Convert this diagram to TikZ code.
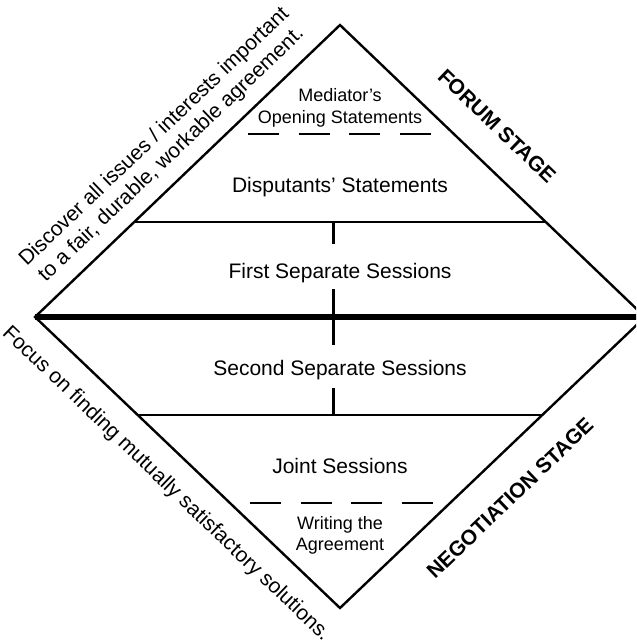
\documentclass[tikz,border=0pt]{standalone}
\usepackage{fontspec}
\setmainfont{Liberation Sans}
\begin{document}
\begin{tikzpicture}[x=1pt,y=-1pt,
  edge/.style={line width=2.4pt,line cap=round,line join=miter},
  divider/.style={line width=2.4pt},
  mainline/.style={line width=6pt},
  vsep/.style={line width=3pt},
  dashline/.style={line width=2.8pt,dash pattern=on 31pt off 19.5pt},
  lbl/.style={font=\fontsize{21}{25}\selectfont,anchor=base,inner sep=0pt},
  small/.style={font=\fontsize{18}{21.5}\selectfont,align=center,inner sep=0pt},
  stage/.style={font=\bfseries\fontsize{21}{25}\selectfont,inner sep=0pt},
  side/.style={font=\fontsize{21}{24.5}\selectfont,inner sep=0pt}]
\clip (0,0) rectangle (636,644);
\coordinate (T) at (340,25);
\coordinate (L) at (35,317);
\coordinate (R) at (645,317);
\coordinate (B) at (340,608);
% diamond
\draw[edge] (T) -- (R) -- (B) -- (L) -- cycle;
% horizontal dividers
\coordinate (u1) at (134.2,222);
\coordinate (u2) at (545.8,222);
\coordinate (d1) at (138.4,415);
\coordinate (d2) at (541.6,415);
\draw[divider] (u1) -- (u2);
\draw[divider] (d1) -- (d2);
\draw[mainline] (L) -- (R);
% vertical centre segments
\coordinate (v1a) at (333,222); \coordinate (v1b) at (333,244);
\coordinate (v2a) at (333,289); \coordinate (v2b) at (333,345);
\coordinate (v3a) at (333,388); \coordinate (v3b) at (333,415);
\draw[vsep] (v1a) -- (v1b);
\draw[vsep] (v2a) -- (v2b);
\draw[vsep] (v3a) -- (v3b);
% dashed lines
\coordinate (da1) at (248,134); \coordinate (da2) at (431,134);
\coordinate (db1) at (250,503); \coordinate (db2) at (433,503);
\draw[dashline] (da1) -- (da2);
\draw[dashline] (db1) -- (db2);
% labels
\node[small] (med) at (340,107.9) {Mediator’s\\Opening Statements};
\node[lbl] (disp) at (340,193) {Disputants’ Statements};
\node[lbl] (first) at (340,278) {First Separate Sessions};
\node[lbl] (second) at (340,375) {Second Separate Sessions};
\node[lbl] (joint) at (340,473) {Joint Sessions};
\node[small] (write) at (340,535.4) {Writing the\\Agreement};
% stage labels
\node[stage,rotate=-43.75] (forum) at (497,126) {FORUM STAGE};
\node[stage,rotate=43.75] (nego) at (510,498) {NEGOTIATION STAGE};
% side texts
\node[side,rotate=43.75,align=center] (disc) at (163,146) {Discover all issues / interests important\\to a fair, durable, workable agreement.};
\node[side,rotate=-43.75] (focus) at (166,484) {Focus on finding mutually satisfactory solutions.};
\end{tikzpicture}
\end{document}
